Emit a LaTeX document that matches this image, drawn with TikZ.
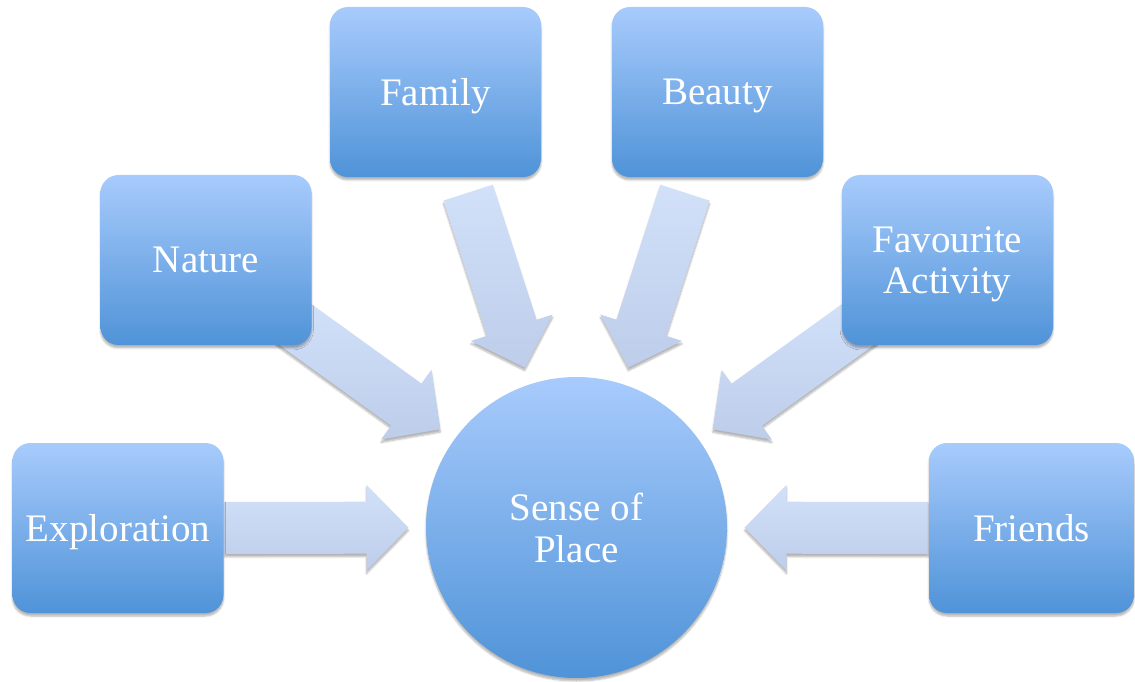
\documentclass[tikz,border=0pt]{standalone}
\usepackage{fontspec}
\setmainfont{Liberation Serif}
\usetikzlibrary{calc,shadows.blur}
\pgfdeclarelayer{bg}
\pgfsetlayers{bg,main}
\definecolor{boxtop}{RGB}{168,203,252}
\definecolor{boxbot}{RGB}{79,147,216}
\definecolor{arrtop}{RGB}{210,225,249}
\definecolor{arrbot}{RGB}{189,205,234}
\tikzset{>=stealth,
  softshadow/.style={blur shadow={shadow xshift=0pt, shadow yshift=-3pt, shadow blur steps=6, shadow opacity=30}},
  place/.style={rounded corners=18pt, top color=boxtop, bottom color=boxbot, text=white,
    minimum width=211pt, minimum height=170pt, align=center, softshadow,
    text depth=0pt, font=\fontsize{39}{41}\selectfont},
  hubnode/.style={circle, top color=boxtop, bottom color=boxbot, text=white,
    minimum size=301pt, align=center, softshadow, font=\fontsize{39}{42}\selectfont},
  fatarrow/.style={top color=arrtop, bottom color=arrbot, softshadow}}

\begin{document}
\begin{tikzpicture}[x=1pt,y=1pt]
    \useasboundingbox (0,0) rectangle (1135,681);
    % centre and the six boxes
    \node[hubnode] (hub) at (576.5,153.5) {Sense of\\Place};
    \node[place] (expl) at (118,153) {Exploration};
    \node[place] (nat) at (206,421) {Nature};
    \node[place] (fam) at (435.5,589) {Family};
    \node[place] (beau) at (717.5,589) {Beauty};
    \node[place] (fav) at (947.5,421) {Favourite\\Activity};
    \node[place, minimum width=205pt] (fri) at (1031.5,153) {Friends};
    % block arrows towards the centre
    \begin{pgfonlayer}{bg}
    \foreach \b in {expl,nat,fam,beau,fav,fri}
      \path[fatarrow] let \p1=($(\b)-(hub)$), \n1={atan2(\y1,\x1)} in
        [shift={(hub)}, rotate=\n1] (168,0) -- (210,43) -- (210,26) -- (352,26)
        -- (352,-26) -- (210,-26) -- (210,-43) -- cycle;
    \end{pgfonlayer}
\end{tikzpicture}
\end{document}
